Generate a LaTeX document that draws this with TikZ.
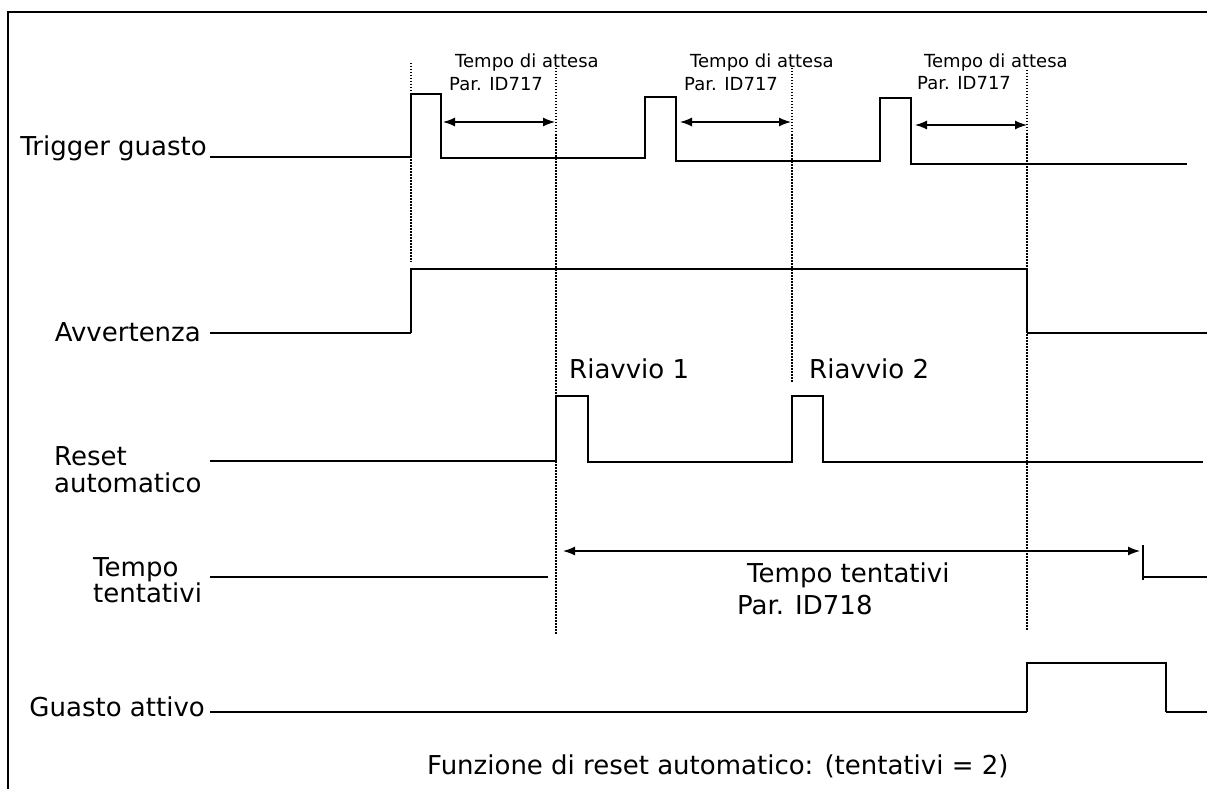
\documentclass[tikz,border=0pt]{standalone}
\usepackage{fontspec}
\setmainfont{DejaVu Sans}
\usetikzlibrary{arrows.meta}
\begin{document}
\begin{tikzpicture}[x=1pt,y=-1pt,
  sig/.style={line width=1.3pt,line join=miter},
  lowsig/.style={line width=2.4pt},
  guide/.style={line width=1.2pt,dash pattern=on 1.5pt off 1.5pt},
  dimarrow/.style={line width=1.3pt,{Latex[length=12pt,width=9pt]}-{Latex[length=12pt,width=9pt]}},
  big/.style={font=\fontsize{26}{27}\selectfont,inner sep=0pt},
  small/.style={font=\fontsize{18}{20}\selectfont,inner sep=0pt}]
\useasboundingbox (0,0) rectangle (1207,789);
% frame
\draw[line width=1.3pt] (8,789) -- (8,12) -- (1207,12);

% guide lines
\coordinate (g1t) at (411,63);  \coordinate (g1b) at (411,262);
\coordinate (g2t) at (556,68);  \coordinate (g2b) at (556,635);
\coordinate (g3t) at (792,68);  \coordinate (g3b) at (792,383);
\coordinate (g4t) at (1027,70); \coordinate (g4b) at (1027,630);
\draw[guide] (g1t) -- (g1b);
\draw[guide] (g2t) -- (g2b);
\draw[guide] (g3t) -- (g3b);
\draw[guide] (g4t) -- (g4b);

% signal labels
\node[big,anchor=base east] (ltrig) at (207,155) {Trigger guasto};
\node[big,anchor=base east] (lavv) at (201,341) {Avvertenza};
\node[big,anchor=base west] (lres1) at (54,465) {Reset};
\node[big,anchor=base west] (lres2) at (54,492) {automatico};
\node[big,anchor=base west] (ltt1) at (93,576) {Tempo};
\node[big,anchor=base west] (ltt2) at (93,602) {tentativi};
\node[big,anchor=base east] (lga) at (205,716) {Guasto attivo};

% annotation texts
\node[small,anchor=base west] (w1a) at (455,68) {Tempo di attesa};
\node[small,anchor=base west] (w1b) at (449,91) {Par. ID717};
\node[small,anchor=base west] (w2a) at (690,68) {Tempo di attesa};
\node[small,anchor=base west] (w2b) at (684,91) {Par. ID717};
\node[small,anchor=base west] (w3a) at (924,68) {Tempo di attesa};
\node[small,anchor=base west] (w3b) at (917,90) {Par. ID717};
\node[big,anchor=base west] (r1) at (569,378) {Riavvio 1};
\node[big,anchor=base west] (r2) at (809,378) {Riavvio 2};
\node[big,anchor=base west] (tt1) at (747,582) {Tempo tentativi};
\node[big,anchor=base west] (tt2) at (737,614) {Par. ID718};
\node[big,anchor=base west] (cap) at (427,774) {Funzione di reset automatico: (tentativi = 2)};

% Trigger guasto
\draw[sig] (210,157) -- (411,157) -- (411,94) -- (441,94) -- (441,158) -- (645,158)
  -- (645,97) -- (676,97) -- (676,161) -- (880,161) -- (880,98) -- (911,98)
  -- (911,164) -- (1187,164);
% waiting-time arrows
\coordinate (a1l) at (443,122); \coordinate (a1r) at (555,122);
\coordinate (a2l) at (680,122); \coordinate (a2r) at (791,122);
\coordinate (a3l) at (915,125); \coordinate (a3r) at (1027,125);
\draw[dimarrow] (a1l) -- (a1r);
\draw[dimarrow] (a2l) -- (a2r);
\draw[dimarrow] (a3l) -- (a3r);

% Avvertenza
\draw[lowsig] (210,333) -- (411,333);
\draw[sig] (411,333) -- (411,269) -- (1027,269) -- (1027,333);
\draw[lowsig] (1027,333) -- (1207,333);

% Reset automatico
\draw[sig] (210,461) -- (556,461) -- (556,396) -- (588,396) -- (588,462) -- (792,462)
  -- (792,396) -- (823,396) -- (823,462) -- (1203,462);

% Tempo tentativi
\draw[sig] (210,577) -- (548,577);
\coordinate (tal) at (563,551); \coordinate (tar) at (1140,551);
\draw[dimarrow] (tal) -- (tar);
\draw[sig] (1143,545) -- (1143,580);
\draw[sig] (1143,577) -- (1207,577);

% Guasto attivo
\draw[line width=2pt] (210,712) -- (1027,712);
\draw[sig] (1027,712) -- (1027,663) -- (1166,663) -- (1166,712);
\draw[line width=2pt] (1166,712) -- (1207,712);
\end{tikzpicture}
\end{document}
